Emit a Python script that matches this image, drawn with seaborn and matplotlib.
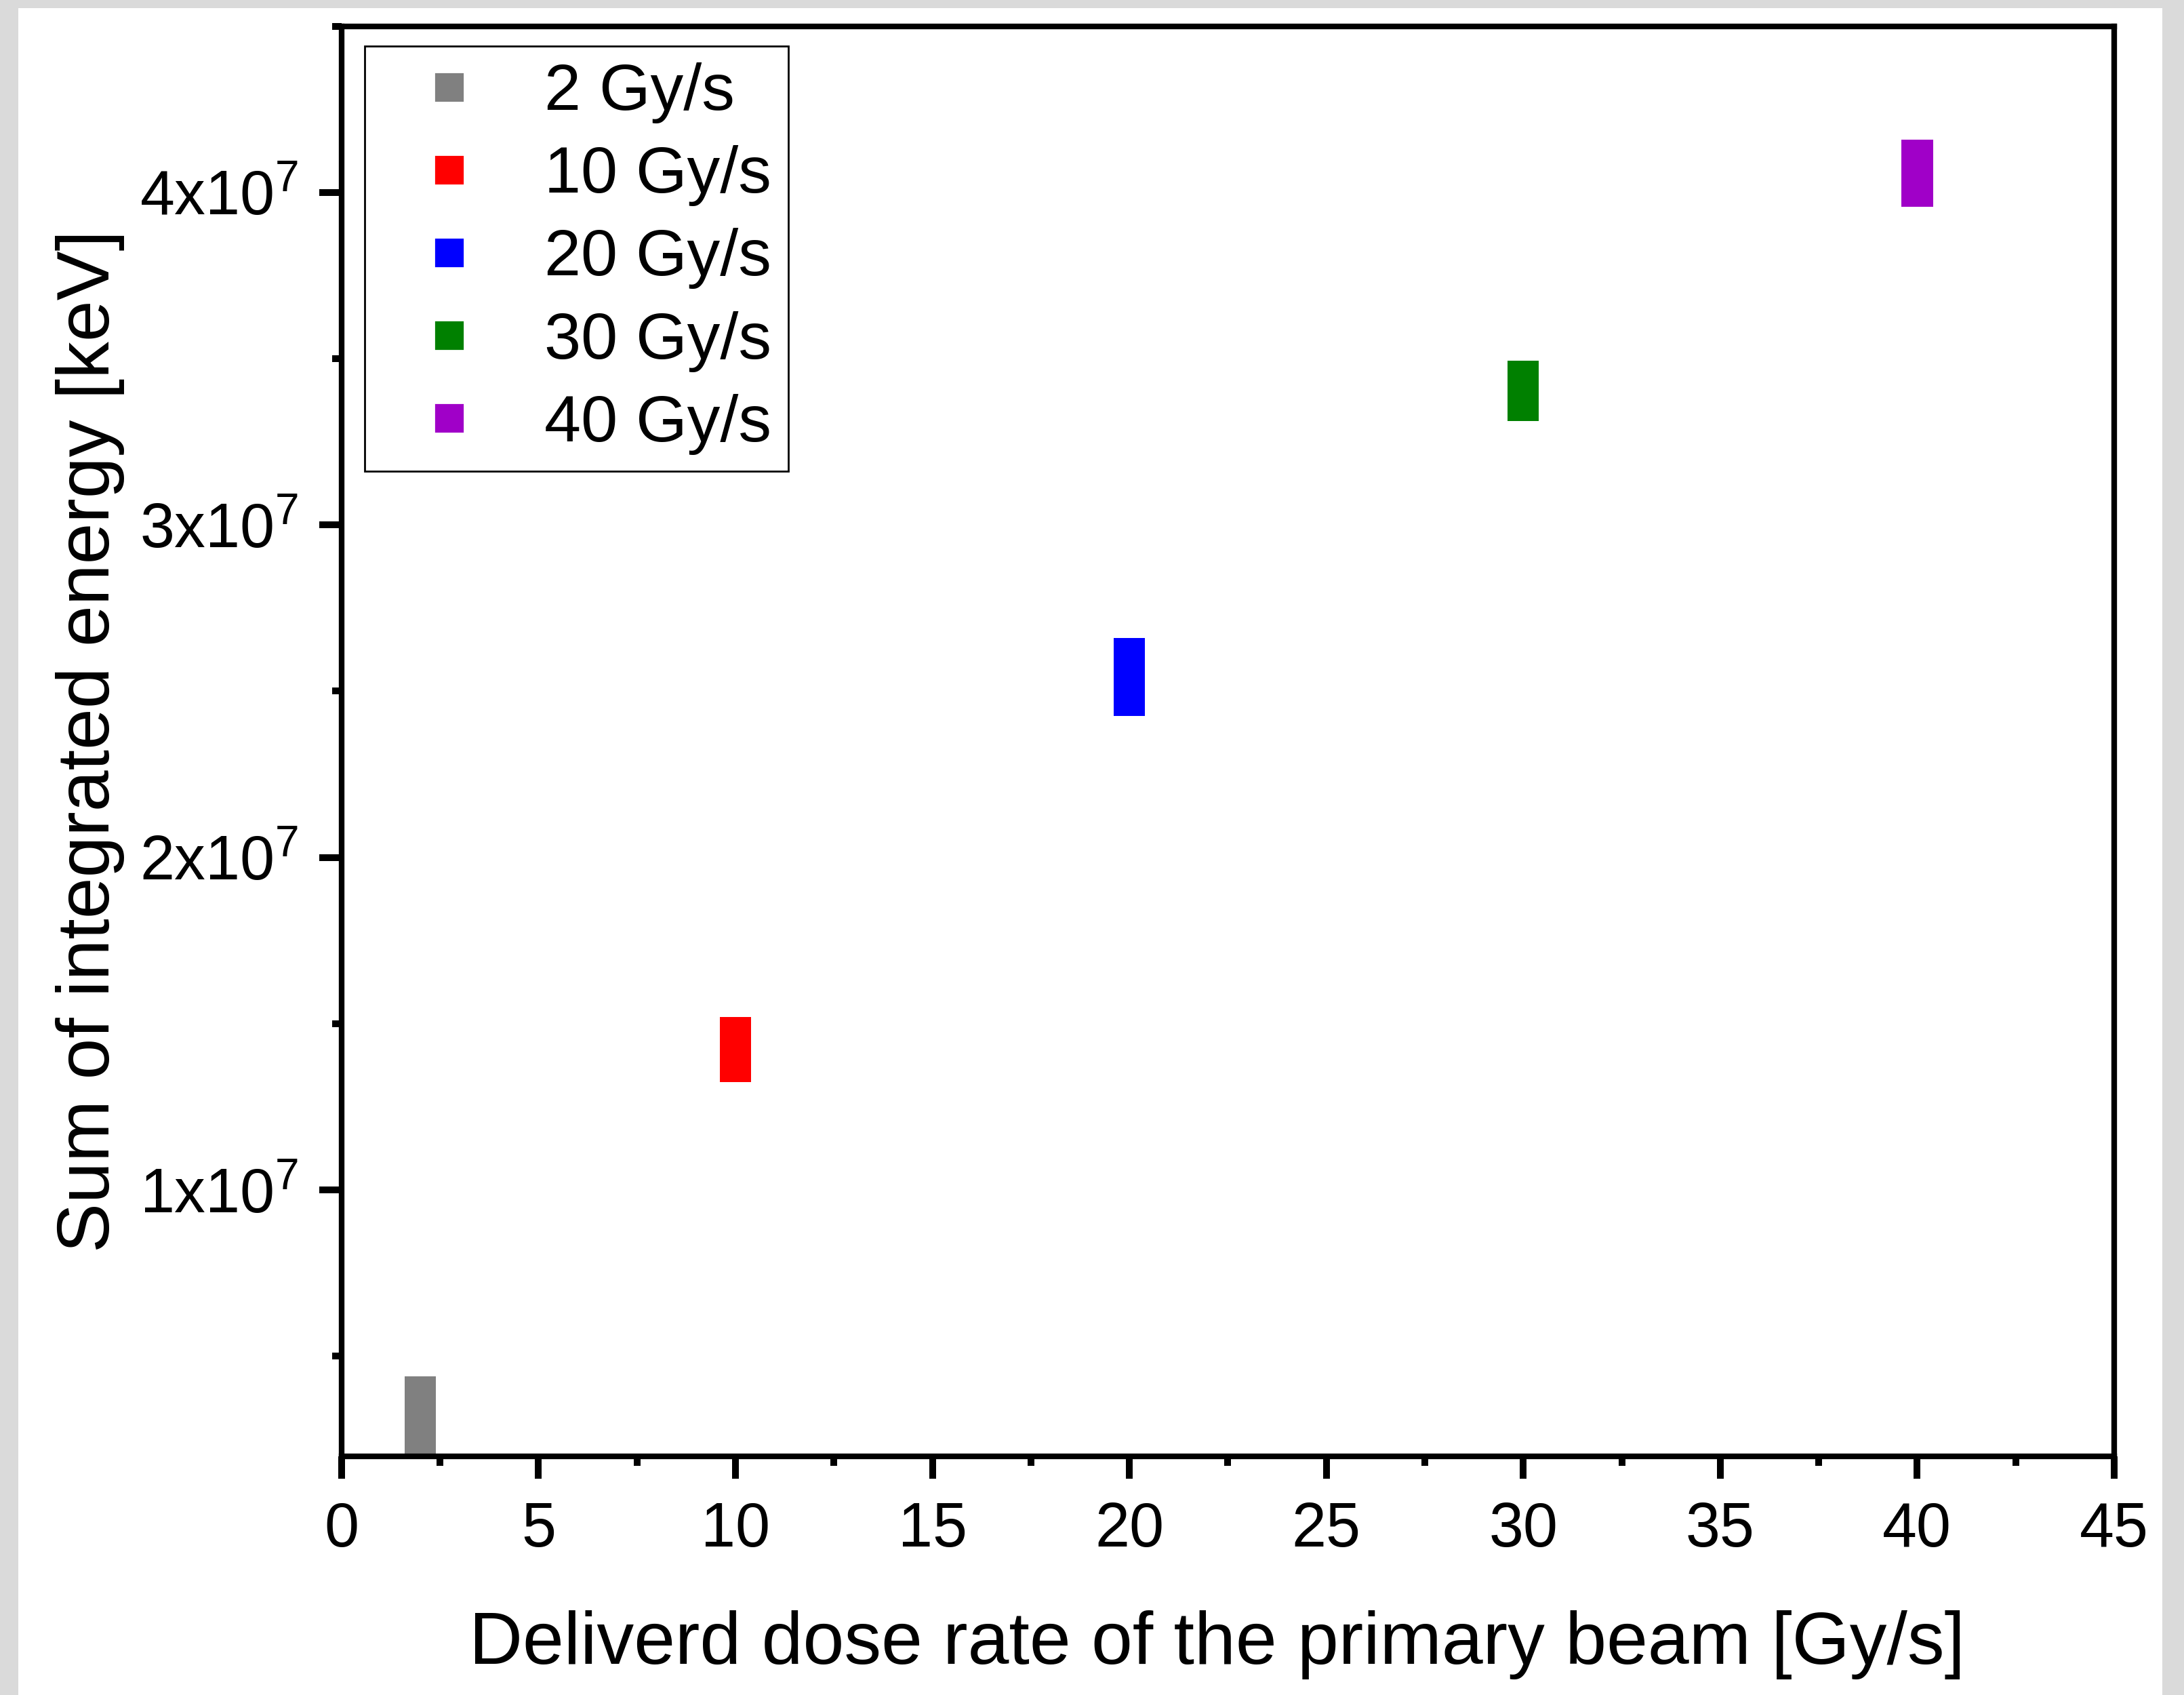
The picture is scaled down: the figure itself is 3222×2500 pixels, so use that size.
import numpy as np
import pandas as pd
import seaborn as sns
import matplotlib.pyplot as plt
import matplotlib.patches as mpatches
from matplotlib.legend_handler import HandlerPatch
from matplotlib.ticker import MultipleLocator, FuncFormatter

# delivered dose rate [Gy/s] and the lower / upper edge of each box [keV]
dose_rate = [2, 10, 20, 30, 40]
labels = ['2 Gy/s', '10 Gy/s', '20 Gy/s', '30 Gy/s', '40 Gy/s']
energy_low = [1.5e6, 1.325e7, 2.426e7, 3.313e7, 3.956e7]
energy_high = [4.39e6, 1.521e7, 2.660e7, 3.494e7, 4.158e7]
colors = ['#808080', '#ff0000', '#0000ff', '#008000', '#a000c8']

sns.set_style('ticks', {'axes.edgecolor': 'black', 'xtick.color': 'black',
                        'ytick.color': 'black', 'text.color': 'black',
                        'axes.labelcolor': 'black'})
plt.rcParams['font.family'] = ['Liberation Sans', 'DejaVu Sans']
plt.rcParams['mathtext.fontset'] = 'custom'
plt.rcParams['mathtext.rm'] = 'Liberation Sans'
plt.rcParams['mathtext.it'] = 'Liberation Sans:italic'
plt.rcParams['mathtext.bf'] = 'Liberation Sans:bold'

fig = plt.figure(figsize=(16.11, 12.5), dpi=200, facecolor='#dadada')
# white page inside the grey screenshot border (behind the axes)
fig.patches.append(mpatches.Rectangle((27 / 3222, 0), (3190 - 27) / 3222, 1 - 12 / 2500,
                                      transform=fig.transFigure, facecolor='white',
                                      edgecolor='none', zorder=-5))
ax = fig.add_axes([0.1564, 0.141, 0.968 - 0.1564, 0.9846 - 0.141])

df = pd.DataFrame({'rate': dose_rate, 'label': labels,
                   'low': energy_low, 'high': energy_high})
df['span'] = df['high'] - df['low']

for (_, row), c in zip(df.iterrows(), colors):
    sns.barplot(x=[row['rate']], y=[row['span']], bottom=row['low'], orient='x',
                native_scale=True, width=0.8, color=c, saturation=1,
                errorbar=None, linewidth=0, ax=ax)

ax.set_xlim(0, 45)
ax.set_ylim(2e6, 4.5e7)
ax.xaxis.set_major_locator(MultipleLocator(5))
ax.xaxis.set_minor_locator(MultipleLocator(2.5))
ax.yaxis.set_major_locator(MultipleLocator(1e7))
ax.yaxis.set_minor_locator(MultipleLocator(5e6))
ax.xaxis.set_major_formatter(FuncFormatter(lambda v, p: f'{v:.0f}'))
ax.yaxis.set_major_formatter(FuncFormatter(lambda v, p: f'{v / 1e7:.0f}x10$^{{7}}$'))

for s in ax.spines.values():
    s.set_linewidth(3)
    s.set_color('black')
ax.tick_params(which='major', direction='out', length=12, width=3.6, labelsize=33,
               top=False, right=False)
ax.tick_params(which='minor', direction='out', length=5, width=3.6,
               top=False, right=False)
ax.tick_params(axis='x', which='major', pad=12)
ax.tick_params(axis='y', which='major', pad=11)

ax.set_xlabel('Deliverd dose rate of the primary beam [Gy/s]', fontsize=39.4, labelpad=27)
ax.xaxis.label.set_x(0.494)
ax.set_ylabel('Sum of integrated energy [keV]', fontsize=39.4, labelpad=8)


def square_patch(legend, orig_handle, xdescent, ydescent, width, height, fontsize):
    s = 16.2
    return mpatches.Rectangle((-xdescent + 27.9, -ydescent + (height - s) / 2), s, s)


handles = [mpatches.Patch(facecolor=c, label=l) for c, l in zip(colors, labels)]
leg = ax.legend(handles=handles, loc='upper left', bbox_to_anchor=(0.013, 0.986),
                borderaxespad=0, fontsize=35, frameon=True, fancybox=False,
                edgecolor='black', framealpha=1, borderpad=0.25, labelspacing=0.33,
                handlelength=2.12, handletextpad=0.36,
                handler_map={mpatches.Patch: HandlerPatch(patch_func=square_patch)})
leg.get_frame().set_linewidth(1)

fig.savefig('out.png', dpi=200, facecolor=fig.get_facecolor())
